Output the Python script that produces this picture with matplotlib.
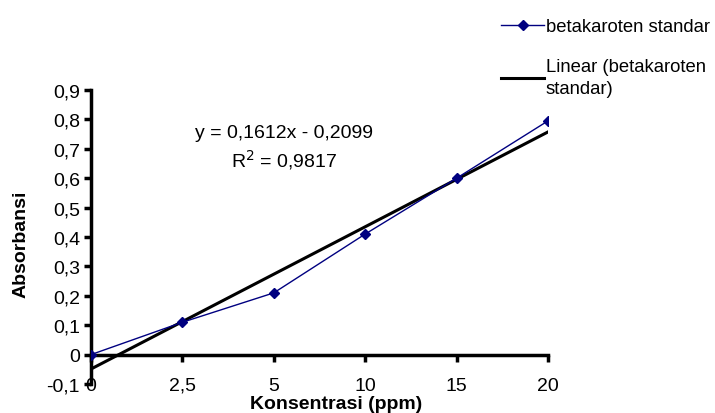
import matplotlib.pyplot as plt
import numpy as np

plt.rcParams['font.family'] = ['Liberation Sans', 'DejaVu Sans']

# data (Excel line chart: categories at equal spacing)
konsentrasi = ["0", "2,5", "5", "10", "15", "20"]
absorbansi = [0.0, 0.11, 0.21, 0.41, 0.60, 0.795]
y_ticks = [-0.1, 0, 0.1, 0.2, 0.3, 0.4, 0.5, 0.6, 0.7, 0.8, 0.9]

idx = np.arange(len(konsentrasi))
# Excel fits the trendline against category numbers 1..n
slope, intercept = np.polyfit(idx + 1, absorbansi, 1)
trend = slope * (idx + 1) + intercept

fig = plt.figure(figsize=(7.15, 4.14), dpi=100)
ax = fig.add_axes([91 / 715, 1 - 385 / 414, (548 - 91) / 715, (385 - 91) / 414])

ax.plot(idx, absorbansi, color="#000080", lw=1, marker="D", ms=5.5,
        label="betakaroten standar", zorder=3)
ax.plot(idx, trend, color="black", lw=2.2, label="Linear (betakaroten\nstandar)", zorder=2)

for s in ["top", "right"]:
    ax.spines[s].set_visible(False)
ax.spines["left"].set_linewidth(2.5)
ax.spines["bottom"].set_linewidth(2.5)
ax.spines["bottom"].set_position(("data", 0))

ax.set_xlim(0, len(konsentrasi) - 1)
ax.set_ylim(-0.1, 0.9)
ax.set_yticks(y_ticks)
ax.set_yticklabels([("%g" % v).replace(".", ",") for v in y_ticks], fontsize=14)
ax.set_xticks(idx)
ax.set_xticklabels(konsentrasi, fontsize=14)
ax.tick_params(axis="y", direction="out", length=5, width=2.5, pad=3)
ax.tick_params(axis="x", direction="out", length=5, width=2.5, pad=11)

ax.set_ylabel("Absorbansi", fontsize=14, fontweight="bold", va="center")
ax.yaxis.set_label_coords((21 - 91) / 457, (385 - 244) / 294)
ax.set_xlabel("Konsentrasi (ppm)", fontsize=14, fontweight="bold", va="center")
ax.xaxis.set_label_coords((336 - 91) / 457, (385 - 405) / 294)

ax.text(0.422, 0.857, "y = 0,1612x - 0,2099", transform=ax.transAxes,
        ha="center", va="center", fontsize=14)
ax.text(0.422, 0.765, "R$^2$ = 0,9817", transform=ax.transAxes,
        ha="center", va="center", fontsize=14)

leg = fig.legend(loc="upper left", bbox_to_anchor=(494 / 715, 1 - 12 / 414), frameon=False,
                 fontsize=13.3, handlelength=2.3, handletextpad=0.1, labelspacing=1.2,
                 borderaxespad=0)
for t in leg.get_texts():
    t.set_linespacing(1.45)

fig.savefig("out.png", dpi=100)
